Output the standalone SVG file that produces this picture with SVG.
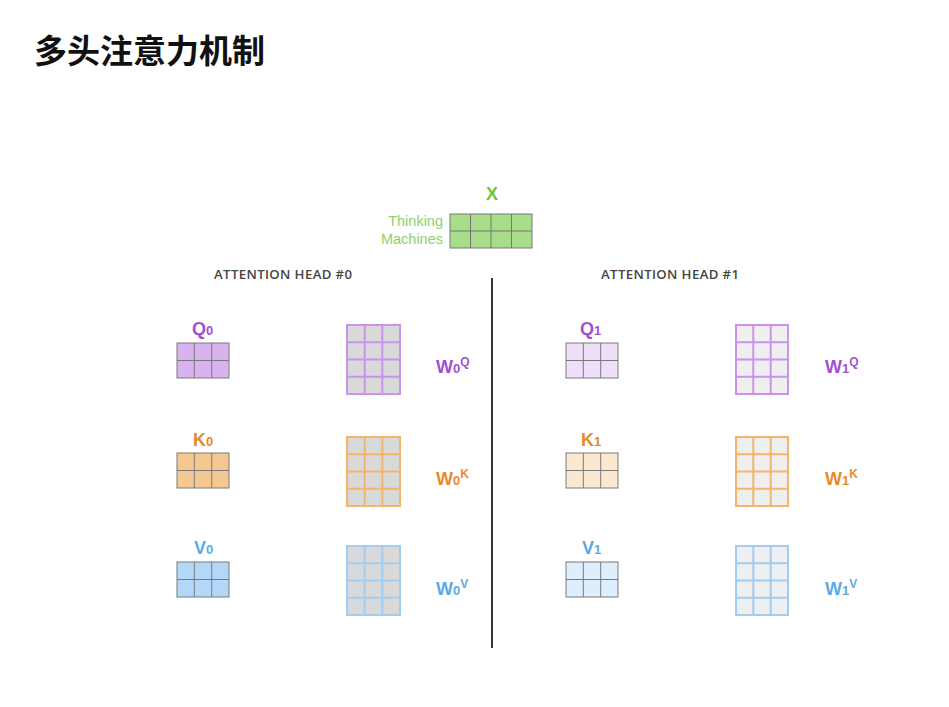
<svg xmlns="http://www.w3.org/2000/svg" width="949" height="707" viewBox="0 0 949 707">
<style>
.title{font-family:"Noto Sans CJK SC","Liberation Sans",sans-serif;font-weight:700;font-size:33px;fill:#111}
.head{font-family:"Open Sans","Liberation Sans",sans-serif;font-weight:600;font-size:13.2px;fill:#444}
.lbl{font-family:"Liberation Sans",Arial,sans-serif;font-weight:700;font-size:18px}
.sub{font-size:13px}
.sup{font-size:12px}
.xin{font-family:"Liberation Sans",Arial,sans-serif;font-size:14.5px;fill:#8fd16a}
.small{stroke:#7a7a7a;stroke-width:1}
.big{stroke-width:2}
.qc{fill:#a24fd0}.kc{fill:#e8892b}.vc{fill:#5aaae6}.xc{fill:#72c43a}
</style>
<rect width="949" height="707" fill="#fff"/>
<text class="title" x="34" y="63">多头注意力机制</text>

<g id="x-input">
<text class="lbl xc" x="492" y="200" text-anchor="middle">X</text>
<text class="xin" x="443" y="226" text-anchor="end">Thinking</text>
<text class="xin" x="443" y="244" text-anchor="end">Machines</text>
<rect x="450" y="214" width="82" height="34" fill="#a8dd8a" stroke="#777" stroke-width="1"/>
<path d="M470.5 214V248M491 214V248M511.5 214V248M450 231H532" stroke="#777" stroke-width="1" fill="none"/>
</g>

<g id="headers">
<text class="head" x="214" y="279" textLength="138">ATTENTION HEAD #0</text>
<text class="head" x="601" y="279" textLength="138">ATTENTION HEAD #1</text>
</g>

<g id="connectors">
<line x1="492" y1="278" x2="492" y2="648" stroke="#333" stroke-width="2"/>
</g>

<!-- Head 0 -->
<g id="q0">
<text class="lbl qc" x="192" y="335">Q<tspan class="sub">0</tspan></text>
<rect x="177" y="343" width="52" height="35" fill="#d8b3ef" class="small"/>
<path d="M194.3 343V378M211.7 343V378M177 360.5H229" class="small" fill="none"/>
</g>
<g id="w0q">
<rect x="347" y="325" width="53" height="69" fill="#d9d9d9" stroke="#cb93ea" class="big"/>
<path d="M364.7 325V394M382.3 325V394M347 342.25H400M347 359.5H400M347 376.75H400" stroke="#cb93ea" class="big" fill="none"/>
<text class="lbl qc" x="436" y="373">W<tspan class="sub">0</tspan><tspan class="sup" dy="-7">Q</tspan></text>
</g>

<g id="k0">
<text class="lbl kc" x="193" y="446">K<tspan class="sub">0</tspan></text>
<rect x="177" y="453" width="52" height="35" fill="#f5c892" class="small"/>
<path d="M194.3 453V488M211.7 453V488M177 470.5H229" class="small" fill="none"/>
</g>
<g id="w0k">
<rect x="347" y="437" width="53" height="69" fill="#d9d9d9" stroke="#f3b46e" class="big"/>
<path d="M364.7 437V506M382.3 437V506M347 454.25H400M347 471.5H400M347 488.75H400" stroke="#f3b46e" class="big" fill="none"/>
<text class="lbl kc" x="436" y="485">W<tspan class="sub">0</tspan><tspan class="sup" dy="-7">K</tspan></text>
</g>

<g id="v0">
<text class="lbl vc" x="194" y="554">V<tspan class="sub">0</tspan></text>
<rect x="177" y="562" width="52" height="35" fill="#b3d7f6" class="small"/>
<path d="M194.3 562V597M211.7 562V597M177 579.5H229" class="small" fill="none"/>
</g>
<g id="w0v">
<rect x="347" y="546" width="53" height="69" fill="#d9d9d9" stroke="#a2cdf3" class="big"/>
<path d="M364.7 546V615M382.3 546V615M347 563.25H400M347 580.5H400M347 597.75H400" stroke="#a2cdf3" class="big" fill="none"/>
<text class="lbl vc" x="436" y="595">W<tspan class="sub">0</tspan><tspan class="sup" dy="-7">V</tspan></text>
</g>

<!-- Head 1 -->
<g id="q1">
<text class="lbl qc" x="580" y="335">Q<tspan class="sub">1</tspan></text>
<rect x="566" y="343" width="52" height="35" fill="#efdff8" class="small"/>
<path d="M583.3 343V378M600.7 343V378M566 360.5H618" class="small" fill="none"/>
</g>
<g id="w1q">
<rect x="736" y="325" width="52" height="69" fill="#efefef" stroke="#cb93ea" class="big"/>
<path d="M753.3 325V394M770.7 325V394M736 342.25H788M736 359.5H788M736 376.75H788" stroke="#cb93ea" class="big" fill="none"/>
<text class="lbl qc" x="825" y="373">W<tspan class="sub">1</tspan><tspan class="sup" dy="-7">Q</tspan></text>
</g>

<g id="k1">
<text class="lbl kc" x="581" y="446">K<tspan class="sub">1</tspan></text>
<rect x="566" y="453" width="52" height="35" fill="#fbe8d0" class="small"/>
<path d="M583.3 453V488M600.7 453V488M566 470.5H618" class="small" fill="none"/>
</g>
<g id="w1k">
<rect x="736" y="437" width="52" height="69" fill="#efefef" stroke="#f3b46e" class="big"/>
<path d="M753.3 437V506M770.7 437V506M736 454.25H788M736 471.5H788M736 488.75H788" stroke="#f3b46e" class="big" fill="none"/>
<text class="lbl kc" x="825" y="485">W<tspan class="sub">1</tspan><tspan class="sup" dy="-7">K</tspan></text>
</g>

<g id="v1">
<text class="lbl vc" x="582" y="554">V<tspan class="sub">1</tspan></text>
<rect x="566" y="562" width="52" height="35" fill="#deeefc" class="small"/>
<path d="M583.3 562V597M600.7 562V597M566 579.5H618" class="small" fill="none"/>
</g>
<g id="w1v">
<rect x="736" y="546" width="52" height="69" fill="#efefef" stroke="#a2cdf3" class="big"/>
<path d="M753.3 546V615M770.7 546V615M736 563.25H788M736 580.5H788M736 597.75H788" stroke="#a2cdf3" class="big" fill="none"/>
<text class="lbl vc" x="825" y="595">W<tspan class="sub">1</tspan><tspan class="sup" dy="-7">V</tspan></text>
</g>
</svg>
